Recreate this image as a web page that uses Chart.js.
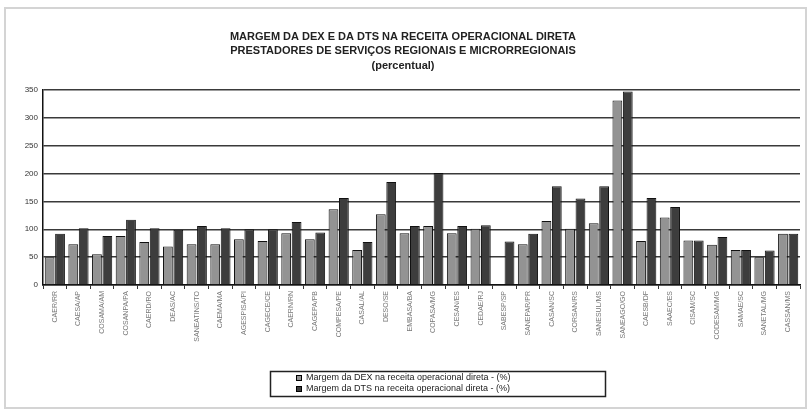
<!DOCTYPE html>
<html>
<head>
<meta charset="utf-8">
<script src="https://cdn.jsdelivr.net/npm/chart.js@4/dist/chart.umd.min.js"></script>
<style>
  html, body { margin: 0; padding: 0; background: #fff; }
  #wrap { width: 807px; height: 412px; }
</style>
</head>
<body>
<div id="wrap"><canvas id="margemChart" width="807" height="412"></canvas></div>
<script>
// prestadores regionais e microrregionais
const prestadores = [
    'CAER/RR', 'CAESA/AP', 'COSAMA/AM', 'COSANPA/PA', 'CAERD/RO', 'DEAS/AC',
    'SANEATINS/TO', 'CAEMA/MA', 'AGESPISA/PI', 'CAGECE/CE', 'CAERN/RN', 'CAGEPA/PB',
    'COMPESA/PE', 'CASAL/AL', 'DESO/SE', 'EMBASA/BA', 'COPASA/MG', 'CESAN/ES',
    'CEDAE/RJ', 'SABESP/SP', 'SANEPAR/PR', 'CASAN/SC', 'CORSAN/RS', 'SANESUL/MS',
    'SANEAGO/GO', 'CAESB/DF', 'SAAEC/ES', 'CISAM/SC', 'CODESAM/MG', 'SAMAE/SC',
    'SANETAL/MG', 'CASSAN/MS'
];

// margem da DEX na receita operacional direta (%)
const margemDex = [
    50, 73, 55, 88, 77, 69, 73, 73, 82, 79, 93, 82,
    136, 63, 127, 93, 106, 93, 101, null, 73, 115, 101, 111,
    331, 79, 121, 80, 72, 63, 50, 92
];

// margem da DTS na receita operacional direta (%)
const margemDts = [
    92, 102, 88, 117, 102, 99, 106, 102, 100, 100, 113, 94,
    156, 77, 185, 106, 201, 106, 107, 78, 92, 177, 155, 177,
    347, 156, 140, 80, 86, 63, 62, 92
];

const yTicks = [0, 50, 100, 150, 200, 250, 300, 350];

const titulo = [
    'MARGEM DA DEX E DA DTS NA RECEITA OPERACIONAL DIRETA',
    'PRESTADORES DE SERVIÇOS REGIONAIS E MICRORREGIONAIS',
    '(percentual)'
];

const FONT = "'Liberation Sans', Arial, sans-serif";

// fundo branco com moldura clara
const fundo = {
    id: 'fundo',
    beforeDraw(chart) {
        const ctx = chart.ctx;
        ctx.save();
        ctx.fillStyle = '#fff';
        ctx.fillRect(0, 0, chart.width, chart.height);
        ctx.strokeStyle = '#d4d4d4';
        ctx.lineWidth = 2;
        ctx.strokeRect(5, 8, chart.width - 6, chart.height - 12);
        ctx.restore();
    }
};

// legenda em caixa, duas linhas
const legendaCaixa = {
    id: 'legendaCaixa',
    afterDraw(chart) {
        const ctx = chart.ctx;
        const x = 270, y = 371, w = 335, h = 25;
        ctx.save();
        ctx.fillStyle = '#fff';
        ctx.fillRect(x, y, w, h);
        ctx.strokeStyle = '#222';
        ctx.lineWidth = 1.5;
        ctx.strokeRect(x + 0.5, y + 0.5, w, h);
        ctx.font = '9px ' + FONT;
        ctx.textBaseline = 'middle';
        chart.data.datasets.forEach((ds, i) => {
            const ly = y + 7 + i * 11;
            ctx.fillStyle = ds.backgroundColor;
            ctx.fillRect(x + 26, ly - 3, 6, 6);
            ctx.strokeStyle = '#000';
            ctx.lineWidth = 1;
            ctx.strokeRect(x + 26.5, ly - 2.5, 5, 5);
            ctx.fillStyle = '#222';
            ctx.fillText(ds.label, x + 36, ly);
        });
        ctx.restore();
    }
};

const ctx = document.getElementById('margemChart').getContext('2d');
new Chart(ctx, {
    type: 'bar',
    data: {
        labels: prestadores,
        datasets: [{
            label: 'Margem da DEX na receita operacional direta - (%)',
            data: margemDex,
            backgroundColor: '#939393',
            borderColor: '#111',
            borderWidth: 1
        }, {
            label: 'Margem da DTS na receita operacional direta - (%)',
            data: margemDts,
            backgroundColor: '#3d3d3d',
            borderColor: '#111',
            borderWidth: 1
        }]
    },
    options: {
        responsive: false,
        animation: false,
        layout: { padding: { left: 6, right: 7, top: 0, bottom: 57 } },
        datasets: { bar: { categoryPercentage: 0.88, barPercentage: 0.94 } },
        plugins: {
            legend: { display: false },
            tooltip: { enabled: false },
            title: {
                display: true,
                text: titulo,
                color: '#222',
                font: { family: FONT, size: 11, weight: 'bold', lineHeight: 1.3 },
                padding: { top: 30, bottom: 17 }
            }
        },
        scales: {
            x: {
                afterFit: scale => { scale.height = 70; },
                grid: {
                    display: true,
                    drawOnChartArea: false,
                    tickLength: 4,
                    color: '#333'
                },
                border: { color: '#111', width: 1.5 },
                ticks: {
                    autoSkip: false,
                    minRotation: 90,
                    maxRotation: 90,
                    color: '#777',
                    font: { family: FONT, size: 7 },
                    padding: 2
                }
            },
            y: {
                min: 0,
                max: 350,
                afterFit: scale => { scale.width = 37; },
                afterBuildTicks: scale => { scale.ticks = yTicks.map(v => ({ value: v })); },
                grid: { color: '#3a3a3a', lineWidth: 1.5, drawTicks: false },
                border: { color: '#111', width: 1.5 },
                ticks: {
                    color: '#333',
                    font: { family: FONT, size: 8 },
                    padding: 5
                }
            }
        }
    },
    plugins: [fundo, legendaCaixa]
});
</script>
</body>
</html>
